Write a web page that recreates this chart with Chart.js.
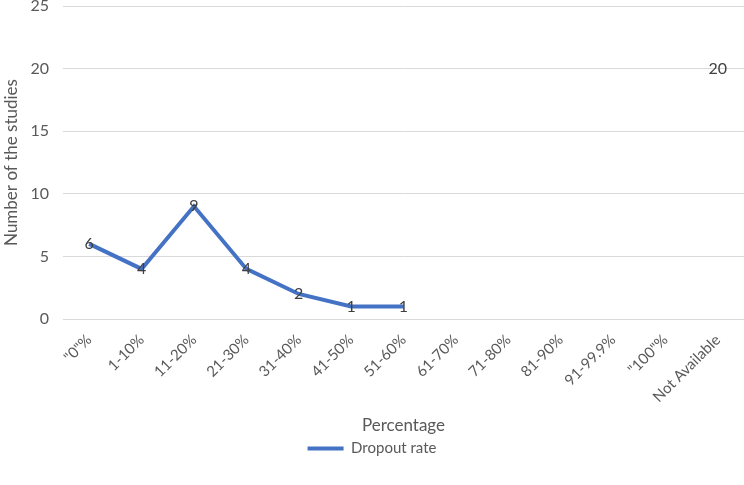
<!DOCTYPE html>
<html>
<head>
<meta charset="utf-8">
<script src="https://cdn.jsdelivr.net/npm/chart.js@4"></script>
<style>
  html, body { margin: 0; padding: 0; background: #fff; }
  #wrap { width: 744px; height: 485px; position: relative; }
</style>
</head>
<body>
<div id="wrap"><canvas id="chart"></canvas></div>
<script>
// categories and values
const categories = ['"0"%', '1-10%', '11-20%', '21-30%', '31-40%', '41-50%', '51-60%',
    '61-70%', '71-80%', '81-90%', '91-99.9%', '"100"%', 'Not Available'];
const dropoutRate = [6, 4, 9, 4, 2, 1, 1, null, null, null, null, null, 20];
const yTicks = { min: 0, max: 25, step: 5 };

const FONT = 'Lato, "Open Sans", sans-serif';

// value labels drawn centred on each point (like Excel "Center")
const pointLabels = {
    id: 'pointLabels',
    afterDatasetsDraw(chart) {
        const ctx = chart.ctx;
        const meta = chart.getDatasetMeta(0);
        ctx.save();
        ctx.font = '16px ' + FONT;
        ctx.fillStyle = '#404040';
        ctx.textAlign = 'center';
        ctx.textBaseline = 'middle';
        meta.data.forEach((pt, i) => {
            const v = dropoutRate[i];
            if (v === null) return;
            ctx.fillText(String(v), pt.x, pt.y);
        });
        ctx.restore();
    }
};

new Chart(document.getElementById('chart'), {
    type: 'line',
    data: {
        labels: categories,
        datasets: [{
            label: 'Dropout rate',
            data: dropoutRate,
            borderColor: '#4472C4',
            backgroundColor: '#4472C4',
            borderWidth: 4,
            pointRadius: 0,
            pointHoverRadius: 0,
            tension: 0,
            spanGaps: false
        }]
    },
    options: {
        responsive: true, maintainAspectRatio: false,
        animation: false,
        layout: { padding: { top: 0, right: 0, bottom: 19, left: 0 } },
        plugins: {
            legend: {
                position: 'bottom',
                labels: {
                    color: '#595959',
                    font: { family: FONT, size: 15 },
                    usePointStyle: true,
                    pointStyle: 'line',
                    pointStyleWidth: 36,
                    padding: 2
                }
            },
            tooltip: { enabled: false }
        },
        scales: {
            x: {
                offset: true,
                grid: { display: false, drawTicks: false },
                border: { display: false },
                ticks: {
                    color: '#595959',
                    font: { family: FONT, size: 15 },
                    maxRotation: 45, minRotation: 45,
                    autoSkip: false,
                    padding: 12
                },
                title: {
                    display: true, text: 'Percentage',
                    color: '#595959',
                    font: { family: FONT, size: 17 },
                    padding: { top: 10, bottom: 3 }
                },
                afterFit(scale) { scale.height = 120; }
            },
            y: {
                min: yTicks.min, max: yTicks.max,
                grid: { color: '#D9D9D9', lineWidth: 1, drawTicks: false },
                border: { display: false },
                ticks: {
                    stepSize: yTicks.step,
                    color: '#595959',
                    font: { family: FONT, size: 16 },
                    padding: 14
                },
                title: {
                    display: true, text: 'Number of the studies',
                    color: '#595959',
                    font: { family: FONT, size: 17 },
                    padding: { top: 1, bottom: 4 }
                },
                afterFit(scale) {
                    scale.width = 63;
                    scale.paddingTop = 6;
                    scale.paddingBottom = 0;
                }
            }
        }
    },
    plugins: [pointLabels]
});
</script>
</body>
</html>
